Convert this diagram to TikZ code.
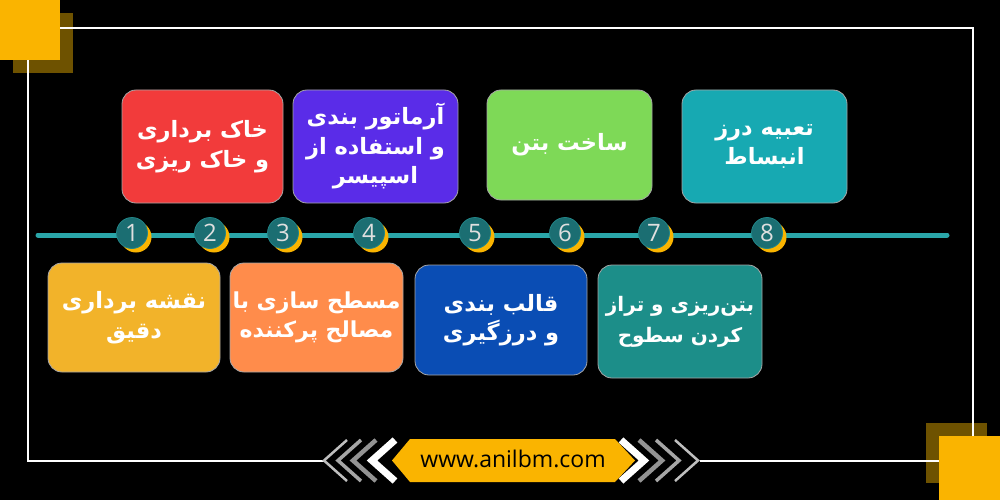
\documentclass[tikz,border=0pt]{standalone}
\usepackage{fontspec}
\setmainfont{Open Sans}
\newfontfamily\arabicfont[Script=Arabic]{DejaVu Sans}
\TeXXeTstate=1
\newcommand{\rl}[1]{{\arabicfont\bfseries\beginR #1\endR}}
\begin{document}
\begin{tikzpicture}[x=1pt,y=-1pt]
\definecolor{cyel}{HTML}{FAB400}
\definecolor{cdark}{HTML}{6E5200}
\definecolor{tline}{HTML}{2AA6A9}
\definecolor{cfill}{HTML}{1B6E72}
\definecolor{bred}{HTML}{F23B3B}
\definecolor{bpur}{HTML}{5A2CE8}
\definecolor{bgrn}{HTML}{7ED957}
\definecolor{btea}{HTML}{17A9B2}
\definecolor{byel}{HTML}{F2B32A}
\definecolor{bora}{HTML}{FF8C4B}
\definecolor{bblu}{HTML}{0A4DB4}
\definecolor{bte2}{HTML}{1C8E89}
\tikzset{
  stepbox/.style={rectangle, rounded corners=14pt, draw=gray!70, line width=0.8pt,
    text=white, align=center, font=\fontsize{22.5}{29.5}\selectfont, inner sep=0pt},
  numc/.style={circle, fill=cfill, draw=tline!80!black, line width=0.8pt, minimum size=31pt,
    inner sep=0pt, text=gray!25, font=\fontsize{24}{24}\selectfont},
  frameline/.style={white, line width=2pt},
  chev/.style={line width=#1, miter limit=10}
}
\useasboundingbox (0,0) rectangle (1000,500);
\fill[black] (0,0) rectangle (1000,500);
% corner squares
\fill[cdark] (13,13) rectangle (73,73);
\fill[cyel] (0,0) rectangle (60,60);
\fill[cdark] (926,423) rectangle (987,483);
% frame
\draw[frameline] (60,28) -- (973,28) -- (973,436);
\draw[frameline] (28,60) -- (28,461) -- (324,461);
\draw[frameline] (700,461) -- (939,461);
\fill[cyel] (939,436) rectangle (1000,500);
% timeline
\draw[tline, line width=5pt, line cap=round] (38,235) -- (947,235);
\foreach \n/\x in {1/132,2/210,3/283,4/369,5/475,6/565,7/654,8/767}{
  \fill[cyel] (\x+4,237) circle (15.5);
  \node[numc] (c\n) at (\x,233) {\n};
}
% top boxes
\node[stepbox, fill=bred, minimum width=161pt, minimum height=113pt] (b2) at (202.5,146.5)
  {\rl{خاک برداری}\\\rl{و خاک ریزی}};
\node[stepbox, fill=bpur, minimum width=165pt, minimum height=113pt] (b4) at (375.5,146.5)
  {\rl{آرماتور بندی}\\\rl{و استفاده از}\\\rl{اسپیسر}};
\node[stepbox, fill=bgrn, minimum width=165pt, minimum height=110pt] (b6) at (569.5,145)
  {\rl{ساخت بتن}};
\node[stepbox, fill=btea, minimum width=165pt, minimum height=113pt] (b8) at (764.5,146.5)
  {\rl{تعبیه درز}\\\rl{انبساط}};
% bottom boxes
\node[stepbox, fill=byel, minimum width=172pt, minimum height=109pt] (b1) at (134,317.5)
  {\rl{نقشه برداری}\\\rl{دقیق}};
\node[stepbox, fill=bora, minimum width=173pt, minimum height=109pt,
  font=\fontsize{22}{29.5}\selectfont] (b3) at (316.5,317.5)
  {\rl{مسطح سازی با}\\\rl{مصالح پرکننده}};
\node[stepbox, fill=bblu, minimum width=172pt, minimum height=110pt] (b5) at (501,320)
  {\rl{قالب بندی}\\\rl{و درزگیری}};
\node[stepbox, fill=bte2, minimum width=164pt, minimum height=113pt,
  font=\fontsize{20}{31}\selectfont] (b7) at (680,321.5)
  {\rl{بتن‌ریزی و تراز}\\\rl{کردن سطوح}};
% chevrons
\draw[chev=7pt, white] (395,440) -- (372,460.5) -- (395,481);
\draw[chev=4.5pt, gray!85!white] (376,440) -- (353,460.5) -- (376,481);
\draw[chev=3.5pt, gray!70] (361,440) -- (338,460.5) -- (361,481);
\draw[chev=2.5pt, gray!50] (347,440) -- (324,460.5) -- (347,481);
\draw[chev=7pt, white] (621,440) -- (644,460.5) -- (621,481);
\draw[chev=4.5pt, gray!85!white] (639,440) -- (662,460.5) -- (639,481);
\draw[chev=3.5pt, gray!70] (656,440) -- (679,460.5) -- (656,481);
\draw[chev=2.5pt, gray!50] (675,440) -- (698,460.5) -- (675,481);
% badge
\fill[cyel] (392,460.5) -- (410,439) -- (615,439) -- (635,460.5) -- (615,482) -- (410,482) -- cycle;
\node[font=\fontsize{23}{23}\selectfont, text=black, inner sep=0pt] (url) at (513,459) {www.anilbm.com};
\end{tikzpicture}
\end{document}
